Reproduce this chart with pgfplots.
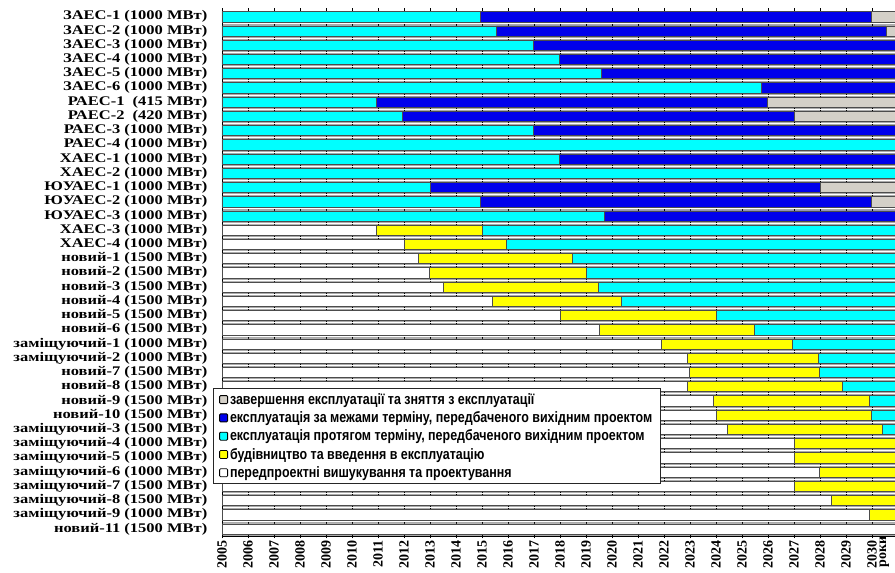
\documentclass[border=0pt]{standalone}
\usepackage{fontspec}
\setmainfont{Liberation Serif}
\newfontfamily\legfont[FakeStretch=0.83]{Liberation Sans}
\usepackage{pgfplots}
\usepackage{pgfplotstable}
\pgfplotsset{compat=1.18}
\definecolor{cCyan}{RGB}{0,255,255}
\definecolor{cBlue}{RGB}{0,0,235}
\definecolor{cYellow}{RGB}{255,255,0}
\definecolor{cGray}{RGB}{212,208,200}

% years since 2005: pre-design (white), construction (yellow),
% operation within term (cyan), extended operation (blue), decommissioning (gray)
\pgfplotstableread{
y pre build op ext dec
36 0 0 9.95 15.0 2.05
35 0 0 10.55 14.98 1.47
34 0 0 11.95 15.05 0
33 0 0 12.95 14.05 0
32 0 0 14.6 12.4 0
31 0 0 20.75 6.25 0
30 0 0 5.95 15.0 6.05
29 0 0 6.95 15.05 5.0
28 0 0 11.95 15.05 0
27 0 0 27 0 0
26 0 0 12.95 14.05 0
25 0 0 27 0 0
24 0 0 8.0 15.0 4.0
23 0 0 9.95 15.0 2.05
22 0 0 14.7 12.3 0
21 5.95 4.05 17.0 0 0
20 7.0 3.95 16.05 0 0
19 7.53 5.93 13.54 0 0
18 7.97 6.03 13.0 0 0
17 8.49 5.98 12.53 0 0
16 10.4 4.95 11.65 0 0
15 13.0 6.0 8.0 0 0
14 14.49 5.97 6.54 0 0
13 16.91 5.0 5.09 0 0
12 17.91 5.0 4.09 0 0
11 17.96 5.0 4.04 0 0
10 17.91 5.94 3.15 0 0
9 18.9 6.0 2.1 0 0
8 18.99 5.96 2.05 0 0
7 19.44 5.96 1.6 0 0
6 22.0 5.0 0 0 0
5 22.0 5.0 0 0 0
4 22.97 4.03 0 0 0
3 22.0 5.0 0 0 0
2 23.41 3.59 0 0 0
1 24.9 2.1 0 0 0
0 27 0 0 0 0
}\data

\begin{document}
\begin{tikzpicture}
\useasboundingbox (-222pt,-37pt) rectangle (673pt,536pt);
\begin{axis}[
  at={(0pt,0pt)}, anchor=south west,
  scale only axis, width=673pt, height=525pt,
  xbar stacked, bar width=0.72,
  xmin=0, xmax=25.88, ymin=-0.5, ymax=36.4,
  xtick={0,...,25},
  xticklabels={2005,2006,2007,2008,2009,2010,2011,2012,2013,2014,2015,2016,2017,2018,2019,2020,2021,2022,2023,2024,2025,2026,2027,2028,2029,2030},
  extra x ticks={25.47}, extra x tick labels={роки},
  extra x tick style={major tick length=0pt, xmajorgrids=false, xticklabel style={inner sep=0pt}},
  ytick={0,...,36},
  yticklabels={новий-11 (1500 МВт),заміщуючий-9 (1000 МВт),заміщуючий-8 (1500 МВт),заміщуючий-7 (1500 МВт),заміщуючий-6 (1000 МВт),заміщуючий-5 (1000 МВт),заміщуючий-4 (1000 МВт),заміщуючий-3 (1500 МВт),новий-10 (1500 МВт),новий-9 (1500 МВт),новий-8 (1500 МВт),новий-7 (1500 МВт),заміщуючий-2 (1000 МВт),заміщуючий-1 (1000 МВт),новий-6 (1500 МВт),новий-5 (1500 МВт),новий-4 (1500 МВт),новий-3 (1500 МВт),новий-2 (1500 МВт),новий-1 (1500 МВт),ХАЕС-4 (1000 МВт),ХАЕС-3 (1000 МВт),ЮУАЕС-3 (1000 МВт),ЮУАЕС-2 (1000 МВт),ЮУАЕС-1 (1000 МВт),ХАЕС-2 (1000 МВт),ХАЕС-1 (1000 МВт),РАЕС-4 (1000 МВт),РАЕС-3 (1000 МВт),РАЕС-2\ \ (420 МВт),РАЕС-1\ \ (415 МВт),ЗАЕС-6 (1000 МВт),ЗАЕС-5 (1000 МВт),ЗАЕС-4 (1000 МВт),ЗАЕС-3 (1000 МВт),ЗАЕС-2 (1000 МВт),ЗАЕС-1 (1000 МВт)},
  minor ytick={-0.5,0.5,...,35.5},
  yminorgrids, minor y grid style={white, line width=0.7pt},
  xmajorgrids, major x grid style={black, line width=0.9pt},
  y tick style={draw=none}, minor tick length=0pt,
  x tick style={black, line width=0.8pt}, major tick length=5pt, tick align=center,
  axis background/.style={fill=black!33},
  axis x line=box, axis y line=left,
  axis line style={black, line width=0.8pt, -},
  xticklabel style={rotate=90, anchor=east, font=\bfseries\fontsize{14}{14}\selectfont, inner sep=1.5pt},
  yticklabel style={font=\bfseries\fontsize{16.5}{16.5}\selectfont, inner sep=0pt, yscale=0.8, xshift=-12pt},
  myleg/.style={legend image code/.code={\draw[##1,draw=black,line width=0.8pt,rounded corners=1pt] (0pt,-4pt) rectangle (8pt,4pt);}},
  legend style={at={(-0.0138,0.282)}, anchor=north west, draw=black!85, line width=1pt, fill=white,
    font=\legfont\bfseries\fontsize{15}{18}\selectfont, cells={anchor=west},
    inner xsep=6pt, inner ysep=3pt, row sep=1.8pt},
  reverse legend,
]
\addplot[fill=white, draw=black!70, line width=0.5pt, myleg] table[x=pre, y=y]{\data};
\addlegendentry{передпроектні вишукування та проектування}
\addplot[fill=cYellow, draw=black!70, line width=0.5pt, myleg] table[x=build, y=y]{\data};
\addlegendentry{будівництво та введення в експлуатацію}
\addplot[fill=cCyan, draw=black!70, line width=0.5pt, myleg] table[x=op, y=y]{\data};
\addlegendentry{експлуатація протягом терміну, передбаченого вихідним проектом}
\addplot[fill=cBlue, draw=black!70, line width=0.5pt, myleg] table[x=ext, y=y]{\data};
\addlegendentry{експлуатація за межами терміну, передбаченого вихідним проектом}
\addplot[fill=cGray, draw=black!70, line width=0.5pt, myleg] table[x=dec, y=y]{\data};
\addlegendentry{завершення експлуатації та зняття з експлуатації}
\end{axis}
\end{tikzpicture}
\end{document}
